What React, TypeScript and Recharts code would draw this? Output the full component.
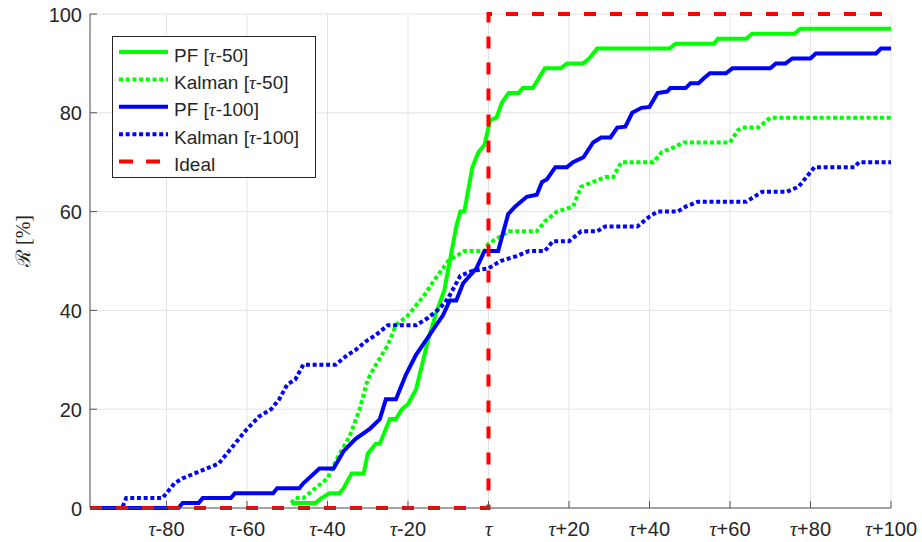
import { LineChart, Line, XAxis, YAxis, CartesianGrid } from 'recharts';

// page has an 8px default margin, drop it so the chart sits at 0,0
if (typeof document !== 'undefined') {
    document.body.style.margin = '0';
}

// x = offset from tau, y = R [%]
const X_TICKS = [-80, -60, -40, -20, 0, 20, 40, 60, 80, 100];
const Y_TICKS = [0, 20, 40, 60, 80, 100];

const PF_50 = [
    [-49, 1], [-43, 1], [-41.5, 2], [-39.5, 3], [-37, 3], [-36, 4], [-34, 7], [-31, 7],
    [-30, 11], [-28, 13], [-27, 13], [-24.5, 18], [-23, 18], [-21.5, 20], [-20, 21], [-18, 24],
    [-16.5, 29], [-15, 34], [-13, 39.5], [-11, 44], [-9.6, 50], [-8, 57], [-7, 60], [-6, 60],
    [-4, 69], [-2.5, 72], [-1, 73.5], [0.4, 78.5], [2, 79], [3.3, 82], [5, 84], [7.5, 84],
    [8.5, 85], [11, 85], [12.5, 87], [14, 89], [18, 89], [19.5, 90], [23.5, 90], [25, 91],
    [27, 93], [45, 93], [46.5, 94], [56, 94], [57, 95], [64, 95], [65.5, 96], [76, 96],
    [77.5, 97], [100, 97],
];

const KALMAN_50 = [
    [-49, 1], [-48, 2], [-46, 2], [-43, 4], [-40, 6], [-37, 11], [-34.5, 14.5], [-32, 20],
    [-30, 26], [-28, 29], [-25, 33], [-23, 37], [-20, 39], [-16, 43], [-14, 45.5], [-10, 50],
    [-6, 52], [-1, 52], [0, 53.5], [2, 54.5], [5, 56], [12, 56], [14, 58], [17, 60],
    [21, 61], [23, 65], [26, 66], [29, 67], [31, 67], [33, 70], [41, 70], [43, 72],
    [46, 73], [48.5, 74], [60, 74], [62, 76.5], [63, 77], [67, 77], [70, 79], [100, 79],
];

const PF_100 = [
    [-99, 0], [-77, 0], [-76, 1], [-72, 1], [-71, 2], [-64, 2], [-63, 3], [-53.5, 3],
    [-52.5, 4], [-47, 4], [-46, 5], [-42, 8], [-38.5, 8], [-36, 11.5], [-33, 14], [-29.5, 16],
    [-27, 18], [-25.5, 22], [-23, 22], [-20.5, 27], [-18, 31], [-15.5, 34], [-13, 37], [-11.3, 39],
    [-9.6, 42], [-8, 42], [-6.3, 45.5], [-3, 48.5], [-1, 52], [2.4, 52], [4.9, 59.5], [6.6, 61],
    [9.5, 63], [12, 63.4], [13.3, 66], [14.5, 66.5], [16.6, 69], [19.5, 69], [21, 70], [23.6, 71],
    [26, 74], [28, 75], [30.3, 75], [32, 77], [34, 77.2], [35.7, 80], [38, 81], [40, 81.2],
    [42, 84], [44.4, 84.3], [45.2, 85], [49, 85], [50.2, 86], [52.2, 86], [53.5, 87], [55, 88],
    [59, 88], [60.6, 89], [70, 89], [71.4, 90], [73.8, 90], [75.5, 91], [80, 91], [81.3, 92],
    [96.3, 92], [97.5, 93], [100, 93],
];

const KALMAN_100 = [
    [-99, 0], [-91, 0], [-90, 2], [-81, 2], [-80, 3], [-78, 5], [-76, 6], [-73, 7],
    [-70, 8], [-67, 9], [-65, 11], [-63, 13], [-60, 16], [-57, 18.5], [-54, 20], [-52, 22],
    [-50, 25], [-48, 26], [-46, 29], [-38, 29], [-35, 31], [-33, 32], [-30, 34], [-28, 35],
    [-25, 37], [-18, 37], [-15, 38.5], [-12, 40.5], [-10, 42.5], [-7, 47], [-4, 48], [0, 48.5],
    [3, 50], [7, 51], [10, 52], [14, 52], [16, 54], [20, 54], [23, 56], [27, 56],
    [29, 57], [37, 57], [40, 59], [42, 60], [47, 60], [49, 61], [52, 62], [64, 62],
    [66, 63], [68, 64], [74, 64], [77, 65], [79, 67], [81, 69], [91, 69], [92, 70],
    [100, 70],
];

const IDEAL = [[-99, 0], [0, 0], [0, 100], [100, 100]];

const toPoints = (pairs: number[][]) => pairs.map(([x, y]) => ({ x, y }));

const AXIS = '#555555';
const TEXT = '#262626';
const SANS = '"Liberation Sans", Arial, sans-serif';
const SERIF = '"Liberation Serif", "DejaVu Serif", serif';

const SERIES = [
    { key: 'pf50', label: 'PF', tag: '-50', data: PF_50, color: '#00ff00', dash: undefined },
    { key: 'kal50', label: 'Kalman', tag: '-50', data: KALMAN_50, color: '#00ff00', dash: '4 2.7' },
    { key: 'pf100', label: 'PF', tag: '-100', data: PF_100, color: '#0000ff', dash: undefined },
    { key: 'kal100', label: 'Kalman', tag: '-100', data: KALMAN_100, color: '#0000ff', dash: '4 2.7' },
    { key: 'ideal', label: 'Ideal', tag: null, data: IDEAL, color: '#ff0000', dash: '12 14' },
];

const Tau = () => <tspan fontFamily={SERIF} fontStyle="italic">τ</tspan>;

const BottomTick = ({ x, y, payload }: any) => {
    const v = payload.value;
    const suffix = v === 0 ? '' : v > 0 ? `+${v}` : `${v}`;
    return (
        <g>
            <line x1={x} y1={y} x2={x} y2={y - 7} stroke={AXIS} />
            <text x={x} y={y + 28} textAnchor="middle" fontSize={20} fill={TEXT} fontFamily={SANS}>
                <Tau />
                {suffix}
            </text>
        </g>
    );
};

const TopTick = ({ x, y }: any) => <line x1={x} y1={y} x2={x} y2={y + 7} stroke={AXIS} />;

const LeftTick = ({ x, y, payload }: any) => (
    <g>
        <line x1={x} y1={y} x2={x + 7} y2={y} stroke={AXIS} />
        <text x={x - 8} y={y + 7.5} textAnchor="end" fontSize={20} fill={TEXT} fontFamily={SANS}>
            {payload.value}
        </text>
    </g>
);

const RightTick = ({ x, y }: any) => <line x1={x} y1={y} x2={x - 7} y2={y} stroke={AXIS} />;

function ChartLegend() {
    return (
        <div
            style={{
                position: 'absolute',
                left: 112,
                top: 36,
                width: 204,
                height: 142,
                background: '#fff',
                border: `1px solid ${TEXT}`,
                boxSizing: 'border-box',
            }}
        >
            <svg width={202} height={140} style={{ display: 'block' }}>
                {SERIES.map((s, i) => {
                    const cy = 15 + i * 27.4;
                    return (
                        <g key={s.key}>
                            <line
                                x1={6}
                                x2={55}
                                y1={cy}
                                y2={cy}
                                stroke={s.color}
                                strokeWidth={4}
                                strokeDasharray={s.key === 'ideal' ? '14 13' : s.dash}
                            />
                            <text x={61} y={cy + 9.5} fontSize={19} fill={TEXT} fontFamily={SANS}>
                                {s.label}
                                {s.tag && (
                                    <>
                                        {' ['}
                                        <Tau />
                                        {`${s.tag}]`}
                                    </>
                                )}
                            </text>
                        </g>
                    );
                })}
            </svg>
        </div>
    );
}

export default function App() {
    return (
        <div style={{ position: 'relative', width: 922, height: 542, background: '#fff', overflow: 'hidden' }}>
            <LineChart width={922} height={542} margin={{ top: 14, right: 31, bottom: 0, left: 0 }}>
                <CartesianGrid stroke="#e3e3e3" strokeWidth={1} />
                <XAxis
                    dataKey="x"
                    type="number"
                    domain={[-99, 100]}
                    ticks={X_TICKS}
                    height={34}
                    tickSize={0}
                    tickMargin={0}
                    interval={0}
                    axisLine={{ stroke: AXIS }}
                    tickLine={false}
                    tick={<BottomTick />}
                />
                <XAxis
                    xAxisId="top"
                    orientation="top"
                    dataKey="x"
                    type="number"
                    domain={[-99, 100]}
                    ticks={X_TICKS}
                    height={0}
                    tickSize={0}
                    tickMargin={0}
                    interval={0}
                    axisLine={{ stroke: AXIS }}
                    tickLine={false}
                    tick={<TopTick />}
                />
                <YAxis
                    type="number"
                    domain={[0, 100]}
                    ticks={Y_TICKS}
                    width={90}
                    tickSize={0}
                    tickMargin={0}
                    interval={0}
                    axisLine={{ stroke: AXIS }}
                    tickLine={false}
                    tick={<LeftTick />}
                    label={
                        <text
                            x={24}
                            y={262}
                            transform="rotate(-90 24 262)"
                            textAnchor="middle"
                            dominantBaseline="central"
                            fontSize={20}
                            fill={TEXT}
                            fontFamily={SERIF}
                        >
                            ℛ [%]
                        </text>
                    }
                />
                <YAxis
                    yAxisId="right"
                    orientation="right"
                    type="number"
                    domain={[0, 100]}
                    ticks={Y_TICKS}
                    width={0}
                    tickSize={0}
                    tickMargin={0}
                    interval={0}
                    axisLine={{ stroke: AXIS }}
                    tickLine={false}
                    tick={<RightTick />}
                />
                {SERIES.map((s) => (
                    <Line
                        key={s.key}
                        data={toPoints(s.data)}
                        dataKey="y"
                        type="linear"
                        stroke={s.color}
                        strokeWidth={4}
                        strokeDasharray={s.dash}
                        dot={false}
                        activeDot={false}
                        isAnimationActive={false}
                    />
                ))}
            </LineChart>
            <ChartLegend />
        </div>
    );
}
